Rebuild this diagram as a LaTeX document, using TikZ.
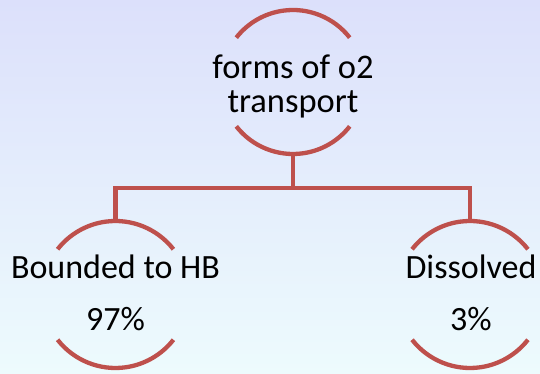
\documentclass[tikz,border=0pt]{standalone}
\usepackage{fontspec}
\setmainfont{Carlito}
\definecolor{arcred}{HTML}{BE504C}
\definecolor{bgtop}{HTML}{DCE0FB}
\definecolor{bgbot}{HTML}{EDFBFD}
\begin{document}
\begin{tikzpicture}[x=1pt,y=1pt,
  ring/.style={circle,inner sep=0pt,outer sep=0pt},
  txt/.style={align=center,text=black,inner sep=0pt},
  arcline/.style={draw=arcred,line width=4.3pt},
  link/.style={draw=arcred,line width=4.3pt,line join=miter}]
\shade[top color=bgtop,bottom color=bgbot] (0,0) rectangle (540,374);
\useasboundingbox (0,0) rectangle (540,374);
% circles (invisible nodes)
\node[ring,minimum size=144pt] (top) at (293,292) {};
\node[ring,minimum size=147pt] (left) at (115.5,79.5) {};
\node[ring,minimum size=147pt] (right) at (470,79.5) {};
% labels
\node[txt,font=\fontsize{34.5}{34}\selectfont,anchor=base] (toplabel) at (293,261) {forms of o2\\transport};
\node[txt,font=\fontsize{34}{40}\selectfont] (leftlabel) at (115.5,81) {Bounded to HB\\[12pt]97\%};
\node[txt,font=\fontsize{34}{40}\selectfont] (rightlabel) at (471,81) {Dissolved\\[12pt]3\%};
% arcs
\foreach \n/\r in {top/72,left/73.5,right/73.5}{
  \draw[arcline] ([shift={(38:\r pt)}]\n.center) arc[start angle=38,end angle=142,radius=\r pt];
  \draw[arcline] ([shift={(-142:\r pt)}]\n.center) arc[start angle=-142,end angle=-38,radius=\r pt];
}
% connectors
\coordinate (bus) at (293,186);
\draw[link] (top.south) -- (bus);
\draw[link] (left.north) |- (bus);
\draw[link] (right.north) |- (bus);
\end{tikzpicture}
\end{document}
